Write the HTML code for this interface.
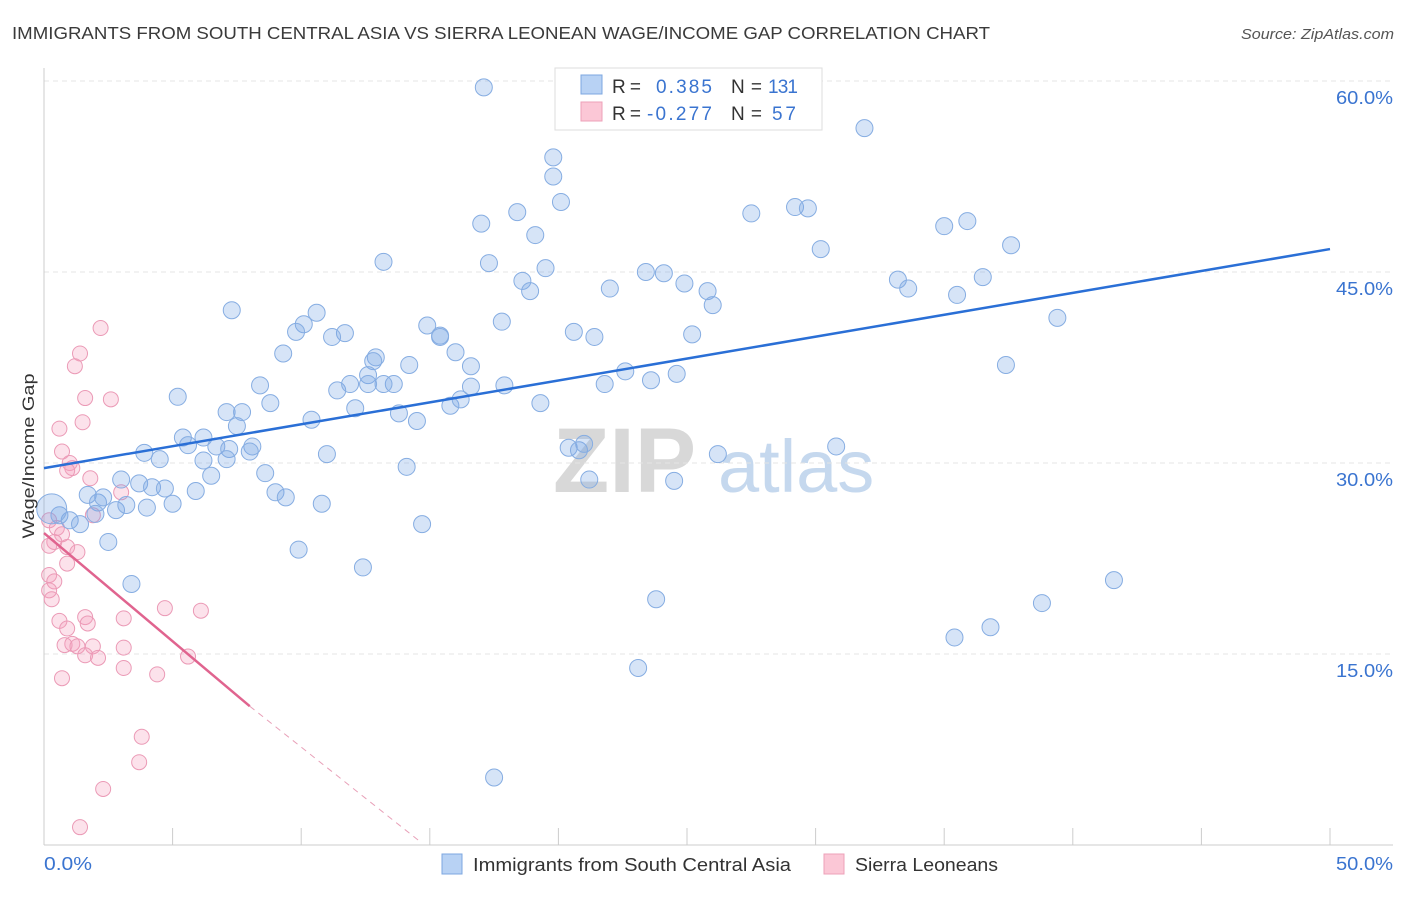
<!DOCTYPE html>
<html><head><meta charset="utf-8">
<style>
body{margin:0;background:#fff;font-family:"Liberation Sans",sans-serif;}
svg text{font-family:"Liberation Sans",sans-serif;}
</style></head>
<body>
<svg id="chart" width="1406" height="892" xmlns="http://www.w3.org/2000/svg">
<text x="12" y="39" font-size="17.5" fill="#3a3a3a" textLength="978" lengthAdjust="spacingAndGlyphs">IMMIGRANTS FROM SOUTH CENTRAL ASIA VS SIERRA LEONEAN WAGE/INCOME GAP CORRELATION CHART</text>
<text x="1241" y="39" font-size="15" fill="#555" font-style="italic" textLength="153" lengthAdjust="spacingAndGlyphs">Source: ZipAtlas.com</text>
<g>
<text x="553" y="492" font-size="92" fill="#d8d8d8" font-family="Liberation Serif" font-weight="bold">ZIP</text>
<text x="718" y="492" font-size="74" fill="#c5d8ee">atlas</text>
</g>
<g id="grid"></g>
<g id="axes"></g>
<g id="pinkPts"></g>
<g id="bluePts"></g>
<g id="trends"></g>
<text transform="translate(34,456) rotate(-90)" font-size="17" fill="#333" text-anchor="middle" textLength="165" lengthAdjust="spacingAndGlyphs">Wage/Income Gap</text>
<g>
<rect x="555" y="68" width="267" height="62" fill="#fff" stroke="#ddd"/>
<rect x="581" y="75" width="21" height="19" fill="#b8d2f4" stroke="#7da7e0"/>
<rect x="581" y="102" width="21" height="19" fill="#fbc7d6" stroke="#eea0b8"/>
<text x="612" y="93" font-size="19" fill="#333" textLength="29">R =</text>
<text x="656" y="93" font-size="19" fill="#3a74d0" textLength="56">0.385</text>
<text x="731" y="93" font-size="19" fill="#333" textLength="31">N =</text>
<text x="768" y="93" font-size="19" fill="#3a74d0" textLength="30">131</text>
<text x="612" y="120" font-size="19" fill="#333" textLength="29">R =</text>
<text x="647" y="120" font-size="19" fill="#3a74d0" textLength="65">-0.277</text>
<text x="731" y="120" font-size="19" fill="#333" textLength="31">N =</text>
<text x="772" y="120" font-size="19" fill="#3a74d0" textLength="24">57</text>
</g>
<g>
<rect x="442" y="854" width="20" height="20" fill="#b8d2f4" stroke="#7da7e0"/>
<text x="473" y="871" font-size="18" fill="#333" textLength="318" lengthAdjust="spacingAndGlyphs">Immigrants from South Central Asia</text>
<rect x="824" y="854" width="20" height="20" fill="#fbc7d6" stroke="#eea0b8"/>
<text x="855" y="871" font-size="18" fill="#333" textLength="143" lengthAdjust="spacingAndGlyphs">Sierra Leoneans</text>
</g>
</svg>
<script>
const yTicks=[15,30,45,60];
const yTickLabels=["15.0%","30.0%","45.0%","60.0%"];
const xTicks=[0,5,10,15,20,25,30,35,40,45,50];
const xLabels=["0.0%","50.0%"];
const blueX=[17.1,31.9,19.8,19.8,20.1,18.4,17.0,19.1,27.5,29.2,29.7,30.2,35.0,35.9,37.6,13.2,17.3,18.6,19.5,18.9,23.4,24.1,24.9,22.0,25.8,26.0,33.2,33.6,35.5,36.5,39.4,7.3,10.6,10.1,9.8,11.7,11.2,9.3,12.9,12.8,14.2,14.9,15.4,15.4,16.0,16.6,17.8,20.6,21.4,25.2,37.4,8.4,7.1,7.7,8.8,5.2,11.4,11.9,12.6,13.6,13.2,12.6,12.1,13.8,14.5,15.8,16.2,16.6,17.9,19.3,21.8,22.6,23.6,24.6,5.4,6.2,3.9,4.5,5.6,6.7,7.5,7.2,8.1,8.0,6.2,7.1,10.4,11.0,6.5,8.6,14.1,20.4,20.8,21.0,21.2,24.5,26.2,30.8,3.7,3.0,4.2,4.7,5.9,5.0,4.0,9.0,9.4,10.8,1.7,2.1,2.3,2.8,3.2,0.6,1.0,1.4,2.0,2.5,3.4,9.9,12.4,14.7,23.8,35.4,36.8,38.8,41.6,23.1,17.5,0.3];
const blueY=[59.5,56.3,54.0,52.5,50.5,49.7,48.8,47.9,49.6,50.1,50.0,46.8,48.6,49.0,47.1,45.8,45.7,44.3,45.3,43.5,45.0,44.9,44.1,43.7,43.5,42.4,44.4,43.7,43.2,44.6,41.4,42.0,41.8,40.9,40.3,40.2,39.9,38.6,38.3,38.0,37.7,40.8,40.0,39.9,38.7,37.6,41.1,40.3,39.9,40.1,37.7,36.1,34.0,34.0,34.7,35.2,35.7,36.2,36.9,36.2,36.2,36.2,34.3,33.9,33.3,34.5,35.0,36.0,36.1,34.7,36.2,37.2,36.5,37.0,32.0,32.0,30.8,30.3,31.4,31.3,32.9,31.1,31.3,30.9,30.2,30.3,33.4,30.7,29.0,29.2,29.7,31.2,31.0,31.5,28.7,28.6,30.7,31.3,28.4,28.7,28.1,28.0,27.8,26.8,26.5,27.7,27.3,26.8,27.5,26.9,27.3,26.3,26.7,25.9,25.5,25.2,26.0,23.8,20.5,23.2,21.8,25.2,19.3,16.3,17.1,19.0,20.8,13.9,5.3,26.4];
const pinkX=[2.2,1.4,1.2,1.6,2.6,1.5,0.6,0.7,1.0,1.1,0.9,1.8,3.0,1.9,0.2,0.5,0.7,0.4,0.2,0.9,1.3,0.9,0.2,0.4,0.2,0.3,4.7,6.1,3.1,0.6,1.6,1.7,0.9,1.1,0.8,1.3,1.9,3.1,1.6,2.1,5.6,3.1,0.7,4.4,3.8,3.7,2.3,1.4];
const pinkY=[40.6,38.6,37.6,35.1,35.0,33.2,32.7,30.9,30.0,29.6,29.4,28.8,27.7,25.9,25.5,24.9,24.4,23.8,23.5,23.4,23.0,22.1,21.2,20.7,20.0,19.3,18.6,18.4,17.8,17.6,17.9,17.4,17.0,15.8,15.7,15.6,15.6,15.5,14.9,14.7,14.8,13.9,13.1,13.4,8.5,6.5,4.4,1.4];
const blueTrend=[[0,29.6],[50,46.8]];
const pinkTrendSolid=[[0,24.5],[8.0,10.9]];
const pinkTrendDash=[[8.0,10.9],[14.6,0.3]];

const NS="http://www.w3.org/2000/svg";
const X=v=>44+v*(1330-44)/50;
const Y=v=>845-v*191/15;
function mk(tag,attrs,parent){const e=document.createElementNS(NS,tag);for(const k in attrs)e.setAttribute(k,attrs[k]);parent.appendChild(e);return e;}
const grid=document.getElementById('grid'),axes=document.getElementById('axes');
yTicks.forEach((t,i)=>{
 const l=mk('line',{x1:44,x2:1393,y1:Y(t),y2:Y(t),stroke:'#e4e4e4','stroke-dasharray':'5,4'},grid);
 
 
 const tx=mk('text',{x:1336,y:Y(t)+23,'font-size':18,fill:'#3a74d0',textLength:57,lengthAdjust:'spacingAndGlyphs'},axes);
 tx.textContent=yTickLabels[i];
 
 
});
const la=mk('line',{x1:44,x2:44,y1:68,y2:845,stroke:'#ccc'},axes);


const ba=mk('line',{x1:44,x2:1393,y1:845,y2:845,stroke:'#ccc'},axes);


xTicks.forEach(t=>{
 const l=mk('line',{x1:X(t),x2:X(t),y1:828,y2:845,stroke:'#ccc'},axes);
 
 
});
const xl0=mk('text',{x:44,y:870,'font-size':18,fill:'#3a74d0',textLength:48,lengthAdjust:'spacingAndGlyphs'},axes);xl0.textContent=xLabels[0];


const xl1=mk('text',{x:1336,y:870,'font-size':18,fill:'#3a74d0',textLength:57,lengthAdjust:'spacingAndGlyphs'},axes);xl1.textContent=xLabels[1];



const bp=document.getElementById('bluePts'),pp=document.getElementById('pinkPts');
pinkX.forEach((x,i)=>{
 const c=mk('circle',{cx:X(x),cy:Y(pinkY[i]),r:7.5,fill:'rgba(244,160,188,0.3)',stroke:'#eb9ab6','stroke-width':1},pp);
 
 
});
blueX.forEach((x,i)=>{
 const big=i===blueX.length-1;
 const c=mk('circle',{cx:X(x),cy:Y(blueY[i]),r:big?15:8.5,fill:'rgba(120,165,230,0.3)',stroke:'#86ade2','stroke-width':1},bp);
 
 
});
const tr=document.getElementById('trends');
const bl=mk('line',{x1:X(blueTrend[0][0]),y1:Y(blueTrend[0][1]),x2:X(blueTrend[1][0]),y2:Y(blueTrend[1][1]),stroke:'#2a6fd6','stroke-width':2.5},tr);


const pl=mk('line',{x1:X(pinkTrendSolid[0][0]),y1:Y(pinkTrendSolid[0][1]),x2:X(pinkTrendSolid[1][0]),y2:Y(pinkTrendSolid[1][1]),stroke:'#e0648f','stroke-width':2.5},tr);


const pd=mk('line',{x1:X(pinkTrendDash[0][0]),y1:Y(pinkTrendDash[0][1]),x2:X(pinkTrendDash[1][0]),y2:Y(pinkTrendDash[1][1]),stroke:'#e8a0b8','stroke-width':1,'stroke-dasharray':'6,5'},tr);


</script>
</body></html>
